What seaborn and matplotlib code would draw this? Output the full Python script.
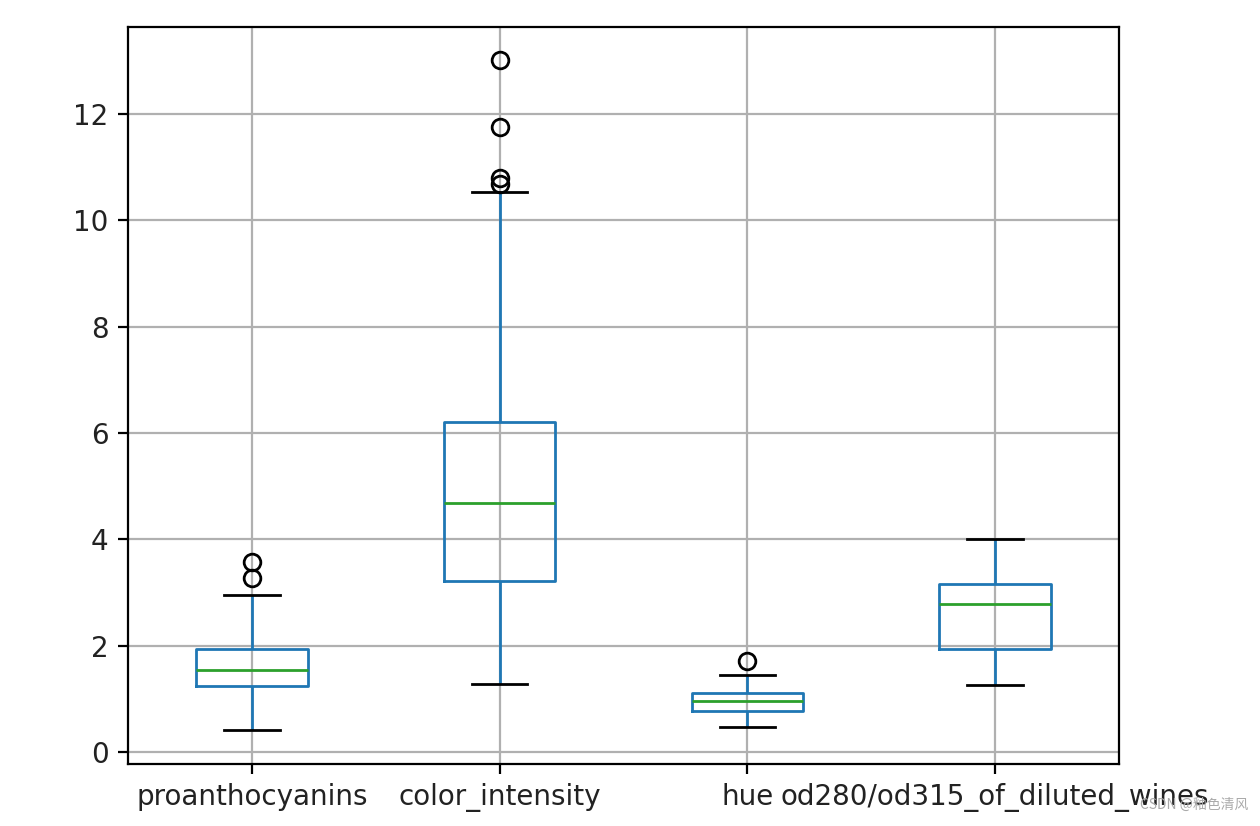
import pandas as pd
import seaborn as sns
import matplotlib.pyplot as plt

# Box statistics (wine dataset columns)
features = ['proanthocyanins', 'color_intensity', 'hue', 'od280/od315_of_diluted_wines']
whisker_low = [0.41, 1.28, 0.48, 1.27]
q1 = [1.25, 3.22, 0.78, 1.94]
median = [1.555, 4.69, 0.965, 2.78]
q3 = [1.95, 6.20, 1.12, 3.17]
whisker_high = [2.96, 10.52, 1.45, 4.00]
outliers = [[3.28, 3.58], [10.68, 10.80, 11.75, 13.00], [1.71], []]

# Rebuild a small sample per column whose quartiles / whiskers / fliers
# come out exactly as above (n = 4k+1 so quartiles fall on data points)
k = 5
rows = []
for i, name in enumerate(features):
    upper = [q3[i]] * (k - 1 - len(outliers[i])) + [whisker_high[i]] + outliers[i]
    vals = ([whisker_low[i]] + [q1[i]] * (2 * k - 1) + [median[i]]
            + [q3[i]] * k + upper)
    rows += [(name, v) for v in vals]
data = pd.DataFrame(rows, columns=['feature', 'value'])

fig = plt.figure(figsize=(6.3, 4.13), dpi=200)
ax = fig.add_axes([128 / 1260, 1 - 764 / 826, 991 / 1260, 737 / 826])

sns.boxplot(data=data, x='feature', y='value', order=features, ax=ax,
            width=0.45, fill=False, color='#1f77b4', linewidth=1, whis=1.5,
            boxprops={'color': '#1f77b4'},
            whiskerprops={'color': '#1f77b4'},
            medianprops={'color': '#2ca02c'},
            capprops={'color': 'black'},
            flierprops={'marker': 'o', 'markerfacecolor': 'none',
                        'markeredgecolor': 'black', 'markersize': 6})

ax.set_xlabel('')
ax.set_ylabel('')
ax.set_yticks([0, 2, 4, 6, 8, 10, 12])
ax.set_xlim(-0.5, 3.5)
ax.grid(True, color='#b0b0b0', linewidth=0.8)
ax.tick_params(labelsize=10, labelcolor='#222222')

# watermark, bottom right
fig.text(1140 / 1260, 1 - 805 / 826, 'CSDN @釉色清风', fontsize=5.0, color='#aaaaaa',
         va='center', family=['Noto Sans CJK SC', 'DejaVu Sans'])

plt.savefig('out.png', dpi=200)
plt.close()
